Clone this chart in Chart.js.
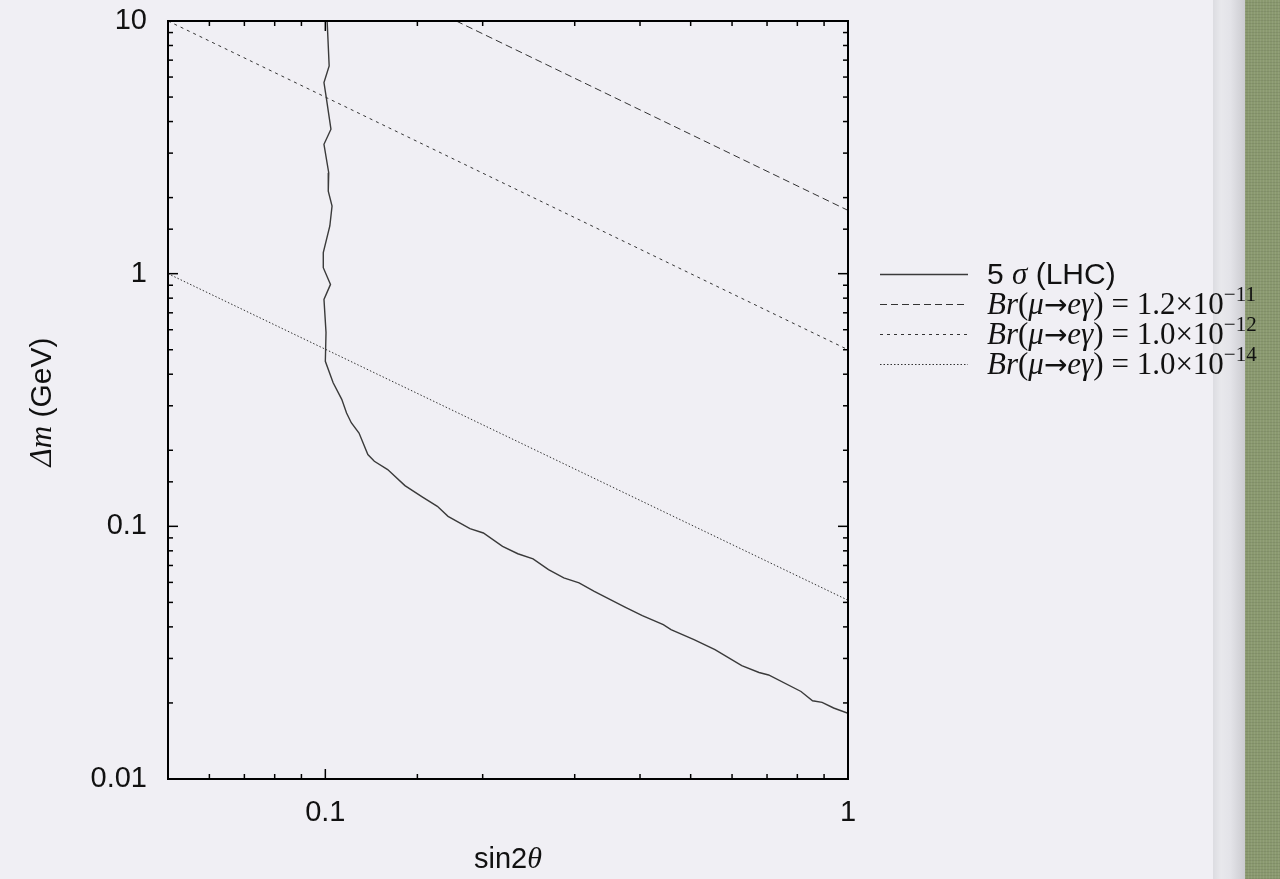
<!DOCTYPE html>
<html><head><meta charset="utf-8">
<script src="https://cdn.jsdelivr.net/npm/chart.js@4.4.1/dist/chart.umd.min.js"></script>
<style>
html,body{margin:0;padding:0;background:#f0eff4;}
#wrap{position:relative;width:1280px;height:879px;overflow:hidden;background:#f0eff4;}
#strip{position:absolute;left:1213px;top:0;width:32px;height:879px;
 background:linear-gradient(90deg,#dcdce1 0,#e8e8ec 25%,#e3e3e8 55%,#cbcbd0 100%);}
#green{position:absolute;left:1245px;top:0;width:35px;height:879px;
 background:repeating-linear-gradient(0deg,rgba(0,0,0,0.07) 0 1px,transparent 1px 3px),
 repeating-linear-gradient(90deg,rgba(255,255,255,0.07) 0 1px,transparent 1px 3px),#8a996f;}
canvas{position:absolute;left:0;top:0;}
</style></head>
<body><div id="wrap"><div id="strip"></div><div id="green"></div><canvas id="c" width="1280" height="879"></canvas></div>
<script>
// ---- data ----
const lhcX = [0.1008,0.1017,0.0994,0.1003,0.1025,0.0994,0.1015,0.1013,0.1030,0.1020,0.0991,0.0991,0.1023,0.0994,0.1003,0.1000,0.1035,0.1075,0.1098,0.1121,0.1160,0.1206,0.1241,0.1316,0.1420,0.1532,0.1638,0.1717,0.1891,0.2006,0.2183,0.2335,0.2497,0.2673,0.2859,0.3058,0.3270,0.3744,0.4041,0.4432,0.4585,0.5074,0.5565,0.6262,0.6757,0.7048,0.8130,0.8554,0.8922,0.9386,1.0];
const lhcY = [10,6.64,5.71,5.05,3.73,3.25,2.51,2.12,1.853,1.544,1.211,1.056,0.907,0.791,0.585,0.450,0.370,0.318,0.281,0.257,0.234,0.1924,0.1809,0.1677,0.1449,0.1308,0.1200,0.1095,0.0979,0.0941,0.0833,0.0779,0.0743,0.0674,0.0625,0.0597,0.0553,0.0479,0.0443,0.0408,0.0390,0.0356,0.0325,0.0281,0.0264,0.0258,0.0222,0.0204,0.0201,0.0191,0.0182];
const br11X = [0.178, 1];  const br11Y = [10, 1.78];
const br12X = [0.05, 1];   const br12Y = [10, 0.5];
const br14X = [0.05, 1];   const br14Y = [1, 0.051];
const seriesLabels = ['5 σ (LHC)','Br(μ→eγ) = 1.2×10−11','Br(μ→eγ) = 1.0×10−12','Br(μ→eγ) = 1.0×10−14'];
const brValues = ['1.2','1.0','1.0'];
const brExponents = ['−11','−12','−14'];
const xTickLabels = [0.1, 1];
const yTickLabels = [0.01, 0.1, 1, 10];
const xTitle = ['sin2','θ'];
const yTitle = ['Δm',' (GeV)'];

const pts = (xs, ys) => xs.map((v,i)=>({x:v,y:ys[i]}));
const SANS = '"Liberation Sans", Arial, Helvetica, sans-serif';
const SERIF = '"Liberation Serif", "Times New Roman", serif';

const isMajor = v => Math.abs(Math.log10(v) - Math.round(Math.log10(v))) < 1e-6;
const near = (v, list) => list.some(t => Math.abs(v - t) < t*1e-6);

function drawRich(ctx, x, y, parts){
  for (const p of parts){
    ctx.font = p.font;
    ctx.fillText(p.t, x, y + (p.dy||0));
    x += ctx.measureText(p.t).width;
  }
  return x;
}

const decor = {
  id:'decor',
  afterDraw(chart){
    const {ctx, chartArea:a, scales:{x, y}} = chart;
    ctx.save();
    ctx.strokeStyle = '#000'; ctx.lineWidth = 1.5;
    const seg = (x1,y1,x2,y2)=>{ctx.beginPath();ctx.moveTo(x1,y1);ctx.lineTo(x2,y2);ctx.stroke();};
    x.ticks.forEach(t=>{
      const px = x.getPixelForValue(t.value);
      if (px < a.left+1 || px > a.right-1) return;
      const L = isMajor(t.value) ? 10 : 5;
      seg(px, a.bottom, px, a.bottom-L); seg(px, a.top, px, a.top+L);
    });
    y.ticks.forEach(t=>{
      const py = y.getPixelForValue(t.value);
      if (py < a.top+1 || py > a.bottom-1) return;
      const L = isMajor(t.value) ? 10 : 5;
      seg(a.left, py, a.left+L, py); seg(a.right, py, a.right-L, py);
    });
    ctx.lineWidth = 2;
    ctx.strokeRect(a.left, a.top, a.right-a.left, a.bottom-a.top);

    // axis titles
    ctx.fillStyle = '#111';
    ctx.textBaseline = 'alphabetic'; ctx.textAlign = 'left';
    const xParts = [{t:xTitle[0], font:'29px '+SANS},{t:xTitle[1], font:'italic 30px '+SERIF}];
    let w = 0; xParts.forEach(p=>{ctx.font=p.font; w+=ctx.measureText(p.t).width;});
    drawRich(ctx, (a.left+a.right)/2 - w/2, 868, xParts);

    const yParts = [{t:yTitle[0], font:'italic 31px '+SERIF},{t:yTitle[1], font:'30px '+SANS}];
    w = 0; yParts.forEach(p=>{ctx.font=p.font; w+=ctx.measureText(p.t).width;});
    ctx.save();
    ctx.translate(51, 402); ctx.rotate(-Math.PI/2);
    drawRich(ctx, -w/2, 0, yParts);
    ctx.restore();

    // legend
    chart.data.datasets.forEach((ds, i)=>{
      const cy = 274 + i*30;
      ctx.save();
      ctx.strokeStyle = ds.borderColor; ctx.lineWidth = ds.borderWidth;
      ctx.setLineDash(ds.borderDash || []);
      ctx.beginPath(); ctx.moveTo(880, cy+0.5); ctx.lineTo(968, cy+0.5); ctx.stroke();
      ctx.restore();
      ctx.fillStyle = '#111';
      const by = cy + 10;
      if (i === 0){
        drawRich(ctx, 987, by, [{t:'5 ', font:'30px '+SANS},{t:'σ', font:'italic 31px '+SERIF},{t:' (LHC)', font:'30px '+SANS}]);
      } else {
        const up = '31px '+SERIF, it = 'italic 31px '+SERIF;
        drawRich(ctx, 987, by, [
          {t:'Br', font:it},{t:'(', font:up},{t:'μ', font:it},{t:'→', font:'28px "DejaVu Sans"'},
          {t:'eγ', font:it},{t:') = '+brValues[i-1]+'×10', font:up},
          {t:brExponents[i-1], font:'21px '+SERIF, dy:-13}
        ]);
      }
    });
    ctx.restore();
  }
};

new Chart(document.getElementById('c'), {
  type:'line',
  data:{
    datasets:[
      {label:seriesLabels[0], data:pts(lhcX,lhcY), borderColor:'#3a3a3a', borderWidth:1.4, pointRadius:0, tension:0, fill:false},
      {label:seriesLabels[1], data:pts(br11X,br11Y), borderColor:'#333', borderWidth:1, borderDash:[7,4], pointRadius:0, fill:false},
      {label:seriesLabels[2], data:pts(br12X,br12Y), borderColor:'#333', borderWidth:1, borderDash:[3,4], pointRadius:0, fill:false},
      {label:seriesLabels[3], data:pts(br14X,br14Y), borderColor:'#333', borderWidth:1, borderDash:[1.5,2], pointRadius:0, fill:false}
    ]
  },
  options:{
    responsive:false, animation:false, devicePixelRatio:1,
    layout:{padding:{top:21,left:0,right:432,bottom:0}},
    plugins:{legend:{display:false}, tooltip:{enabled:false}},
    scales:{
      x:{type:'logarithmic', min:0.05, max:1,
         grid:{display:false, drawTicks:false}, border:{display:false},
         afterFit:s=>{s.height=100; s.paddingLeft=0; s.paddingRight=0;},
         ticks:{autoSkip:false, maxRotation:0, padding:17, color:'#111',
           font:{family:SANS, size:29},
           callback:(v)=> near(v,xTickLabels) ? String(v) : ''}},
      y:{type:'logarithmic', min:0.01, max:10,
         grid:{display:false, drawTicks:false}, border:{display:false},
         afterFit:s=>{s.width=168; s.paddingTop=0; s.paddingBottom=0;},
         ticks:{autoSkip:false, padding:21, color:'#111',
           font:{family:SANS, size:29},
           callback:(v)=> near(v,yTickLabels) ? String(v) : ''}}
    }
  },
  plugins:[decor]
});
</script>
</body></html>
